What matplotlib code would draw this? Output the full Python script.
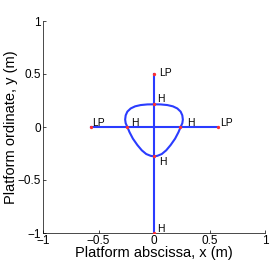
import numpy as np
import matplotlib
matplotlib.use("Agg")
import matplotlib.pyplot as plt

plt.rcParams['font.family'] = ['Liberation Sans', 'DejaVu Sans']

# branches of the equilibrium set
hline_x = [-0.57, 0.58]
hline_y = [0.0, 0.0]
vline_x = [0.0, 0.0]
vline_y = [-1.0, 0.5]

# closed loop (right half then left half)
loop_x = [0.0, 0.06, 0.12, 0.17, 0.21, 0.24, 0.255, 0.26, 0.255, 0.24,
          0.22, 0.19, 0.15, 0.11, 0.07, 0.03, 0.0,
          -0.03, -0.07, -0.11, -0.15, -0.19, -0.22, -0.24, -0.255, -0.26,
          -0.255, -0.24, -0.21, -0.17, -0.12, -0.06, 0.0]
loop_y = [0.214, 0.213, 0.207, 0.195, 0.175, 0.145, 0.11, 0.07, 0.035, 0.0,
          -0.05, -0.11, -0.17, -0.22, -0.255, -0.272, -0.277,
          -0.272, -0.255, -0.22, -0.17, -0.11, -0.05, 0.0, 0.035, 0.07,
          0.11, 0.145, 0.175, 0.195, 0.207, 0.213, 0.214]

# special points
pt_x = [0.0, -0.57, 0.58, 0.0, 0.0, -0.24, 0.235, 0.0]
pt_y = [0.5, 0.0, 0.0, 0.214, -0.277, 0.0, 0.0, -1.0]
pt_lab = ["LP", "LP", "LP", "H", "H", "H", "H", "H"]
lab_x = [0.045, -0.56, 0.595, 0.027, 0.048, -0.207, 0.294, 0.027]
lab_y = [0.51, 0.04, 0.04, 0.26, -0.33, 0.04, 0.04, -0.96]

fig = plt.figure(figsize=(2.73, 2.66), dpi=100)
ax = fig.add_axes([43/273, 1 - 233/266, 222/273, 212/266])

blue = '#2a3cff'
ax.plot(hline_x, hline_y, color=blue, lw=1.5)
ax.plot(vline_x, vline_y, color=blue, lw=1.5)
ax.plot(loop_x, loop_y, color=blue, lw=1.5)
ax.plot(pt_x, pt_y, 'o', color='#ff3030', ms=2.4, mec='none', zorder=5)

for x, y, s in zip(lab_x, lab_y, pt_lab):
    ax.text(x, y, s, fontsize=7.5, va='center', ha='left')

ax.set_xlim(-1, 1)
ax.set_ylim(-1, 1)
ax.set_xticks([-1, -0.5, 0, 0.5, 1])
ax.set_yticks([-1, -0.5, 0, 0.5, 1])
ax.set_xticklabels(['\u22121', '\u22120.5', '0', '0.5', '1'])
ax.set_yticklabels(['\u22121', '\u22120.5', '0', '0.5', '1'])
ax.tick_params(direction='in', length=2.5, width=0.5, labelsize=8.5, pad=1.5)
for s in ['top', 'right']:
    ax.spines[s].set_visible(False)
for s in ['left', 'bottom']:
    ax.spines[s].set_linewidth(0.5)

ax.set_xlabel('Platform abscissa, x (m)', fontsize=10.5, labelpad=-1)
ax.set_ylabel('Platform ordinate, y (m)', fontsize=10.5, labelpad=0)

fig.savefig('out.png', dpi=100)
